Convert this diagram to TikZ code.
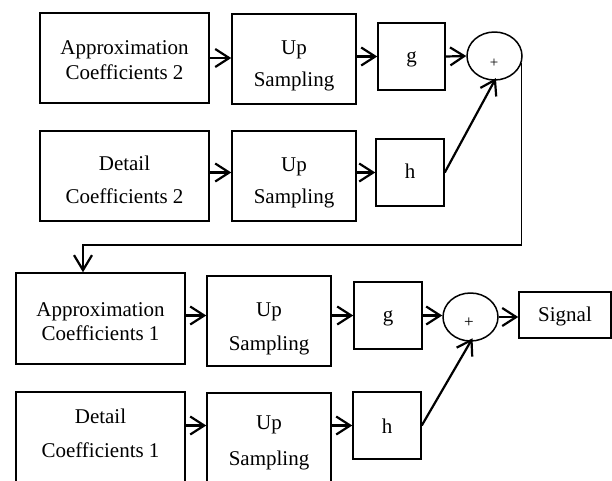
\documentclass[tikz,border=0pt]{standalone}
\usepackage{fontspec}
\setmainfont{Liberation Serif}
\usetikzlibrary{arrows.meta,shapes.geometric}
\tikzset{
  box/.style={draw, line width=1.5pt, inner sep=0pt},
  sumnode/.style={draw, ellipse, line width=1.5pt, inner sep=0pt},
  lbl/.style={font=\fontsize{21}{25}\selectfont, anchor=base, inner sep=0pt},
  plus/.style={inner sep=0pt, anchor=center},
  arr/.style={line width=2.2pt, -{Straight Barb[length=14pt,width=18pt]}},
  fbarr/.style={line width=1.2pt, -{Straight Barb[length=15pt,width=18pt,line width=2.2pt]}}
}
\begin{document}
\begin{tikzpicture}[x=1pt,y=-1pt]
\useasboundingbox (0,0) rectangle (612,480);
% top stage
\node[box, minimum width=169pt, minimum height=90pt] (A2) at (124.5,58) {};
\node[lbl] (A2a) at (124.5,54) {Approximation};
\node[lbl] (A2b) at (124.5,79) {Coefficients 2};
\node[box, minimum width=124pt, minimum height=90pt] (U1) at (294,59) {};
\node[lbl] (U1a) at (294,54) {Up};
\node[lbl] (U1b) at (294,86) {Sampling};
\node[box, minimum width=67pt, minimum height=67pt] (G1) at (411.5,56.5) {};
\node[lbl] (G1t) at (411.5,62) {g};
\node[sumnode, minimum width=55pt, minimum height=48pt] (C1) at (494.5,56) {};
\node[plus, font=\fontsize{15}{17}\selectfont] (C1t) at (494,63) {+};
\node[box, minimum width=169pt, minimum height=90pt] (D2) at (124.5,176) {};
\node[lbl] (D2a) at (124.5,170) {Detail};
\node[lbl] (D2b) at (124.5,203) {Coefficients 2};
\node[box, minimum width=124pt, minimum height=90pt] (U2) at (294,176) {};
\node[lbl] (U2a) at (294,171) {Up};
\node[lbl] (U2b) at (294,203) {Sampling};
\node[box, minimum width=68pt, minimum height=67pt] (H1) at (410,172.5) {};
\node[lbl] (H1t) at (410,178) {h};
% bottom stage
\node[box, minimum width=169pt, minimum height=91pt] (A1) at (100.5,318.5) {};
\node[lbl] (A1a) at (100.5,316) {Approximation};
\node[lbl] (A1b) at (100.5,340) {Coefficients 1};
\node[box, minimum width=124pt, minimum height=90pt] (U3) at (269,321) {};
\node[lbl] (U3a) at (269,316) {Up};
\node[lbl] (U3b) at (269,350) {Sampling};
\node[box, minimum width=68pt, minimum height=67pt] (G2) at (388,315.5) {};
\node[lbl] (G2t) at (388,321.5) {g};
\node[sumnode, minimum width=55pt, minimum height=48pt] (C2) at (470.5,317) {};
\node[plus, font=\fontsize{17}{19}\selectfont] (C2t) at (469,323) {+};
\node[box, minimum width=92pt, minimum height=46pt] (S) at (565,315) {};
\node[lbl] (St) at (565,321) {Signal};
\node[box, minimum width=169pt, minimum height=92pt] (D1) at (100.5,438) {};
\node[lbl] (D1a) at (100.5,423) {Detail};
\node[lbl] (D1b) at (100.5,457) {Coefficients 1};
\node[box, minimum width=124pt, minimum height=91pt] (U4) at (269,438.5) {};
\node[lbl] (U4a) at (269,429) {Up};
\node[lbl] (U4b) at (269,465) {Sampling};
\node[box, minimum width=68pt, minimum height=67pt] (H2) at (387,425.5) {};
\node[lbl] (H2t) at (387,433) {h};
% connectors top
\draw[arr] (A2.east) -- (A2.east -| U1.west);
\draw[arr] (G1.west -| U1.east) -- (G1.west);
\draw[arr] (G1.east) -- (C1.west);
\draw[arr] (D2.east |- H1.west) -- (U2.west |- H1.west);
\draw[arr] (H1.west -| U2.east) -- (H1.west);
\draw[arr, shorten >=-3pt] (H1.east) -- (C1.south);
% feedback
\coordinate (fb) at (83,245);
\draw[fbarr] (C1.-15) |- (fb) -- (fb |- A1.north);
% connectors bottom
\draw[arr] (A1.east |- G2.west) -- (U3.west |- G2.west);
\draw[arr] (G2.west -| U3.east) -- (G2.west);
\draw[arr] (G2.east) -- (G2.east -| C2.west);
\draw[arr] (C2.east) -- (C2.east -| S.west);
\draw[arr] (D1.east |- H2.west) -- (U4.west |- H2.west);
\draw[arr] (H2.west -| U4.east) -- (H2.west);
\draw[arr, shorten >=-4pt] (H2.east) -- (C2.south);
\end{tikzpicture}
\end{document}
